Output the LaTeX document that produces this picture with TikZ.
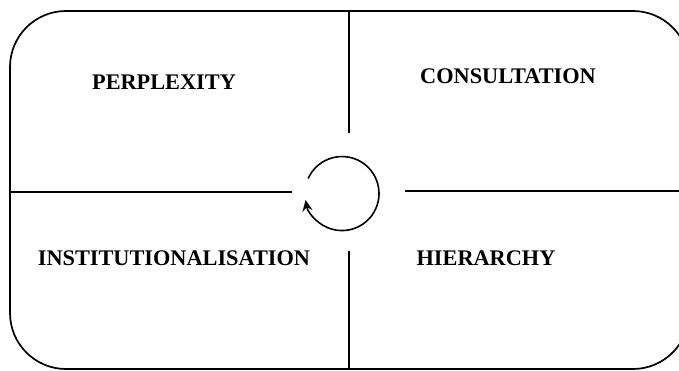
\documentclass[tikz,border=0pt]{standalone}
\usepackage{fontspec}
\setmainfont{Liberation Serif}
\usetikzlibrary{arrows.meta}

\tikzset{
  phase/.style={anchor=base, inner sep=0pt, font=\bfseries\fontsize{22.3}{26}\selectfont},
  frame/.style={line width=1.7pt, rounded corners=56pt}
}

\begin{document}
\begin{tikzpicture}[x=1pt, y=-1pt, line width=1.6pt]
\useasboundingbox[clip] (0,0) rectangle (679,371);
\draw[frame] (10,11) rectangle (689,369);

% quadrant dividers
\draw (349,11) -- (349,133);
\draw (349,251) -- (349,369);
\draw (10,192) -- (292,192);
\draw (405,191) -- (689,191);

% cycle in the middle
\draw[-{Stealth[length=11pt,width=10pt]}] (308.2,178.5) arc[start angle=204, end angle=530, radius=37];

\node[phase] (perplexity) at (164,90) {PERPLEXITY};
\node[phase] (consultation) at (508,84) {CONSULTATION};
\node[phase] (institution) at (174,265) {INSTITUTIONALISATION};
\node[phase] (hierarchy) at (486,265) {HIERARCHY};
\end{tikzpicture}
\end{document}
